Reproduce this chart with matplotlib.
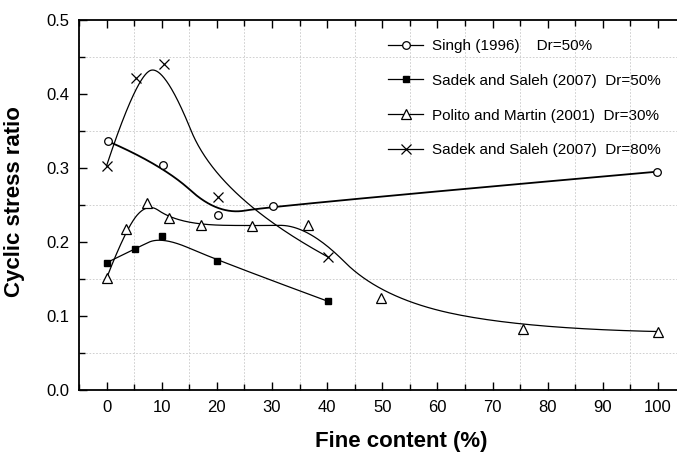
import numpy as np
import matplotlib.pyplot as plt
from matplotlib.ticker import MultipleLocator

### Data.
singh_x = [0.3, 10.2, 20.2, 30.1, 99.8]
singh_y = [0.336, 0.304, 0.236, 0.249, 0.295]

sadek50_x = [0.0, 5.2, 10.0, 20.1, 40.1]
sadek50_y = [0.172, 0.191, 0.208, 0.175, 0.120]

polito_x = [0.0, 3.5, 7.4, 11.3, 17.2, 26.3, 36.5, 49.7, 75.5, 100.0]
polito_y = [0.151, 0.218, 0.253, 0.233, 0.223, 0.222, 0.223, 0.124, 0.083, 0.079]

sadek80_x = [0.0, 5.3, 10.4, 20.2, 40.1]
sadek80_y = [0.303, 0.422, 0.441, 0.261, 0.180]

labels = ['Singh (1996)    Dr=50%',
          'Sadek and Saleh (2007)  Dr=50%',
          'Polito and Martin (2001)  Dr=30%',
          'Sadek and Saleh (2007)  Dr=80%']


def bspline(xs, ys, n=300, k=2):
    # clamped uniform B-spline with the data points as control points
    cp = np.column_stack([xs, ys])
    m = len(cp)
    k = min(k, m - 1)
    knots = np.concatenate([np.zeros(k), np.linspace(0, 1, m - k + 1), np.ones(k)])
    t = np.linspace(0, 1, n)
    t[-1] -= 1e-9
    N = np.array([(t >= knots[i]) & (t < knots[i + 1]) for i in range(len(knots) - 1)], float).T
    for d in range(1, k + 1):
        newN = np.zeros((n, len(knots) - 1 - d))
        for i in range(len(knots) - 1 - d):
            a = knots[i + d] - knots[i]
            b = knots[i + d + 1] - knots[i + 1]
            if a > 0:
                newN[:, i] += (t - knots[i]) / a * N[:, i]
            if b > 0:
                newN[:, i] += (knots[i + d + 1] - t) / b * N[:, i + 1]
        N = newN
    out = N @ cp
    return out[:, 0], out[:, 1]


plt.rcParams['font.family'] = ['Liberation Sans', 'DejaVu Sans']
fig = plt.figure(figsize=(6.77, 4.53), dpi=100)
ax = fig.add_axes([79 / 677, 63 / 453, 598 / 677, 370 / 453])

series = [
    (singh_x, singh_y, dict(marker='o', ms=5.5, mfc='white', mec='k', mew=0.9), 1.3),
    (sadek50_x, sadek50_y, dict(marker='s', ms=4.5, mfc='k', mec='k'), 0.9),
    (polito_x, polito_y, dict(marker='^', ms=7.5, mfc='white', mec='k', mew=0.9), 0.9),
    (sadek80_x, sadek80_y, dict(marker='x', ms=7, mec='k', mew=0.9), 0.9),
]
handles = []
for (xs, ys, mk, lw), lab in zip(series, labels):
    cx, cy = bspline(xs, ys)
    ax.plot(cx, cy, '-', color='k', lw=lw, zorder=2)
    ax.plot(xs, ys, ls='none', zorder=3, **mk)
    h, = ax.plot([], [], '-', color='k', lw=0.9, **mk)
    handles.append(h)

ax.set_xlim(-5, 103.45)
ax.set_ylim(0, 0.5)
ax.xaxis.set_major_locator(MultipleLocator(10))
ax.xaxis.set_minor_locator(MultipleLocator(5))
ax.yaxis.set_major_locator(MultipleLocator(0.1))
ax.yaxis.set_minor_locator(MultipleLocator(0.05))
ax.yaxis.set_major_formatter(plt.FormatStrFormatter('%.1f'))
ax.grid(which='minor', color='#c8c8c8', ls=(0, (2, 2)), lw=0.6)
ax.set_axisbelow(True)

ax.spines['right'].set_visible(False)
for s in ['left', 'bottom', 'top']:
    ax.spines[s].set_linewidth(1.3)
ax.tick_params(which='both', direction='in', top=True, right=False, width=1.0)
ax.tick_params(which='major', length=6, labelsize=12)
ax.tick_params(which='minor', length=4)
ax.tick_params(axis='x', which='major', pad=7)
ax.tick_params(axis='y', which='major', pad=7)

fig.text(401 / 677, 1 - 442 / 453, 'Fine content (%)', fontsize=16, fontweight='bold',
         ha='center', va='center')
fig.text(15 / 677, 1 - 202 / 453, 'Cyclic stress ratio', fontsize=16, fontweight='bold',
         ha='center', va='center', rotation=90)

ax.legend(handles, labels, loc='upper left', bbox_to_anchor=(388 / 677, 1 - 39 / 453),
          bbox_transform=fig.transFigure, frameon=False, fontsize=11,
          handlelength=2.3, handletextpad=0.6, labelspacing=1.36, borderpad=0,
          borderaxespad=0)

fig.savefig('out.png', dpi=100)
